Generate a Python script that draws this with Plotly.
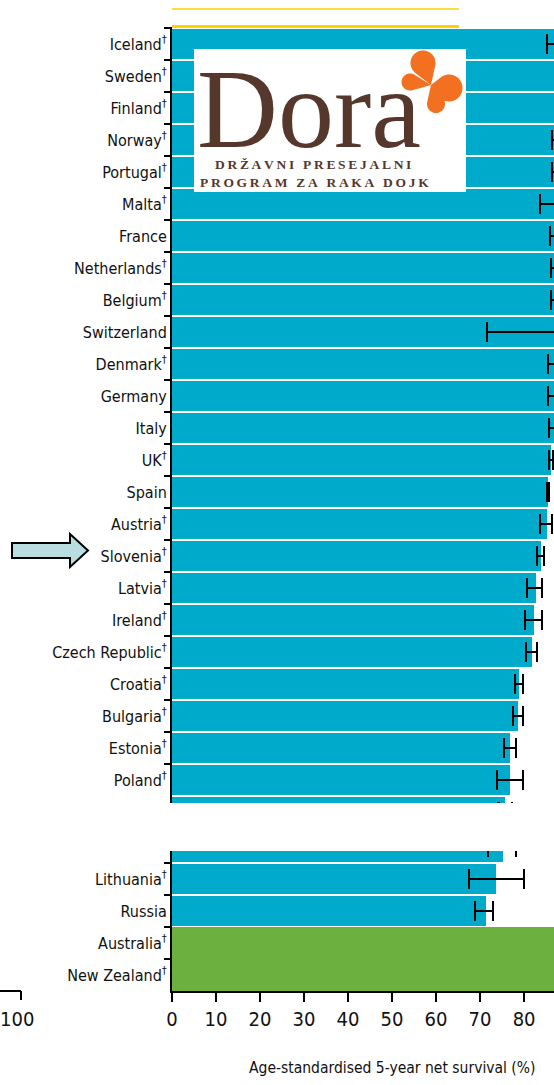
import math
import plotly.graph_objects as go

# ---------------- data ----------------
top_countries = ["Iceland", "Sweden", "Finland", "Norway", "Portugal", "Malta", "France",
                 "Netherlands", "Belgium", "Switzerland", "Denmark", "Germany", "Italy", "UK",
                 "Spain", "Austria", "Slovenia", "Latvia", "Ireland", "Czech Republic",
                 "Croatia", "Bulgaria", "Estonia", "Poland", "Slovakia"]
top_dagger = [1, 1, 1, 1, 1, 1, 0, 1, 1, 0, 1, 0, 0, 1, 0, 1, 1, 1, 1, 1, 1, 1, 1, 1, 1]
top_values = [89.1, 88.8, 88.5, 87.7, 87.6, 86.9, 87.0, 87.0, 87.0, 87.0, 87.0, 87.0, 87.0,
              86.2, 85.5, 85.2, 83.9, 82.7, 82.3, 81.8, 78.9, 78.6, 76.8, 76.8, 75.7]
top_err_minus = [3.9, 0.6, 0.6, 1.3, 1.2, 3.3, 1.1, 0.9, 0.9, 15.4, 1.5, 1.5, 1.3,
                 0.45, 0.2, 1.6, 0.9, 2.0, 2.1, 1.4, 0.9, 1.1, 1.3, 2.9, 1.5]
top_err_plus = [3.9, 0.6, 0.6, 1.3, 1.2, 3.3, 1.1, 0.9, 0.9, 15.4, 1.5, 1.5, 1.3,
                0.45, 0.2, 1.2, 0.6, 1.4, 1.8, 1.2, 0.9, 1.2, 1.4, 3.0, 1.5]

bottom_countries = ["Romania", "Lithuania", "Russia", "Australia", "New Zealand"]
bottom_dagger = [1, 1, 0, 1, 1]
bottom_values = [75.2, 73.6, 71.4, 89.5, 87.6]
bottom_err_minus = [3.4, 6.1, 2.5, 0.0, 0.0]
bottom_err_plus = [3.0, 6.4, 1.6, 0.0, 0.0]
bottom_region = ["Europe", "Europe", "Europe", "Oceania", "Oceania"]

x_ticks = [0, 10, 20, 30, 40, 50, 60, 70, 80]
x_title = "Age-standardised 5-year net survival (%)"

# ---------------- style ----------------
BLUE = "#00AACB"
GREEN = "#6CB13F"
YELLOW = "#F6D500"
BROWN = "#55372C"
ORANGE = "#F37021"
FONT = "DejaVu Sans Condensed, Liberation Sans Narrow, sans-serif"
SERIF = "Liberation Serif, serif"

W, H = 554, 1085
ML, MR, MT, MB = 172, 0, 0, 94
PW, PH = W - ML - MR, H - MT - MB


def px(x):
    return (x - ML) / PW


def py(y):
    return (H - MB - y) / PH


def lab(name, d):
    return name + ("<sup>†</sup>" if d else "")


def spaced(s):
    # mimic letter spacing of the logo lettering with thin spaces
    return "\u2009".join(s)


top_labels = [lab(n, d) for n, d in zip(top_countries, top_dagger)]
bottom_labels = [lab(n, d) for n, d in zip(bottom_countries, bottom_dagger)]
bottom_colors = [BLUE if r == "Europe" else GREEN for r in bottom_region]
bottom_widths = [0.94 if r == "Europe" else 1.0 for r in bottom_region]

err_style = dict(type="data", symmetric=False, color="black", thickness=2.2, width=10)

fig = go.Figure()
fig.add_trace(go.Bar(
    x=top_values, y=top_labels, orientation="h", xaxis="x2", yaxis="y2",
    marker=dict(color=BLUE, line=dict(width=0)), width=0.94,
    error_x=dict(array=top_err_plus, arrayminus=top_err_minus, **err_style),
    showlegend=False,
))
fig.add_trace(go.Bar(
    x=bottom_values, y=bottom_labels, orientation="h", xaxis="x", yaxis="y",
    marker=dict(color=bottom_colors, line=dict(width=0)), width=bottom_widths,
    error_x=dict(array=bottom_err_plus, arrayminus=bottom_err_minus, **err_style),
    showlegend=False,
))

axis_common = dict(showgrid=False, zeroline=False)
yaxis_common = dict(
    type="category", tickson="boundaries", ticks="outside", ticklen=6, tickwidth=2,
    tickcolor="black", showline=True, linecolor="black", linewidth=2,
    tickfont=dict(family=FONT, size=16, color="#111"), **axis_common,
)

fig.update_layout(
    width=W, height=H, margin=dict(l=ML, r=MR, t=MT, b=MB),
    paper_bgcolor="white", plot_bgcolor="white", bargap=0,
    xaxis=dict(domain=[0, 1], range=[0, 86.8], tickvals=x_ticks, ticks="outside",
               ticklen=9, tickwidth=2, tickcolor="black", showline=True,
               linecolor="black", linewidth=2, anchor="y",
               tickfont=dict(family=FONT, size=20, color="#111"), **axis_common),
    xaxis2=dict(domain=[0, 1], range=[0, 86.8], visible=False, anchor="y2",
                matches="x", **axis_common),
    yaxis=dict(domain=[0, py(851)], range=[4.5, 0.125], anchor="x", **yaxis_common),
    yaxis2=dict(domain=[py(803), py(27)], range=[23.72, -0.53], anchor="x2",
                **yaxis_common),
)

shapes = []
annotations = []

# cut-off bar outline at top (yellow)
for yy, lw in [(9, 1.5), (26.5, 3)]:
    shapes.append(dict(type="line", xref="x2", yref="paper", x0=0, x1=65.2,
                       y0=py(yy), y1=py(yy), line=dict(color=YELLOW, width=lw)))

# fragment of neighbouring panel's axis with "100"
shapes.append(dict(type="line", xref="paper", yref="paper", x0=px(0), x1=px(21),
                   y0=py(991), y1=py(991), line=dict(color="black", width=2)))
shapes.append(dict(type="line", xref="paper", yref="paper", x0=px(21), x1=px(21),
                   y0=py(991), y1=py(1000), line=dict(color="black", width=2)))
annotations.append(dict(text="100", xref="paper", yref="paper", x=px(-2), y=py(1019),
                        showarrow=False, xanchor="left", yanchor="middle",
                        font=dict(family=FONT, size=20, color="#111")))

# x-axis title
annotations.append(dict(text=x_title, xref="paper", yref="paper", x=px(392), y=py(1068),
                        showarrow=False, xanchor="center", yanchor="middle",
                        font=dict(family=FONT, size=15.5, color="#111")))

# arrow pointing at Slovenia
arrow_pts = [(12, 543), (70, 543), (70, 534), (88, 550.5), (70, 567), (70, 558), (12, 558)]
path = "M " + " L ".join(f"{px(a):.5f},{py(b):.5f}" for a, b in arrow_pts) + " Z"
shapes.append(dict(type="path", xref="paper", yref="paper", path=path,
                   fillcolor="#B9DEE2", line=dict(color="black", width=2)))

# logo box
shapes.append(dict(type="rect", xref="paper", yref="paper", x0=px(194), x1=px(466),
                   y0=py(192), y1=py(49), fillcolor="white", line=dict(width=0)))


def petal(cx, cy, r, tx, ty, n=40):
    dx, dy = tx - cx, ty - cy
    d = math.hypot(dx, dy)
    th = math.atan2(dy, dx)
    a = math.acos(min(r / d, 1.0))
    pts = [(tx, ty)]
    for i in range(n + 1):
        ang = th + a + (2 * math.pi - 2 * a) * i / n
        pts.append((cx + r * math.cos(ang), cy + r * math.sin(ang)))
    return "M " + " L ".join(f"{px(x):.5f},{py(y):.5f}" for x, y in pts) + " Z"


center = (431, 85)
for cx, cy, r in [(423, 63, 12.5), (410, 82, 8.5), (449, 88, 13.5), (436, 104, 9)]:
    shapes.append(dict(type="path", xref="paper", yref="paper",
                       path=petal(cx, cy, r, *center), fillcolor=ORANGE,
                       line=dict(width=0)))

annotations.append(dict(text="Dora", xref="paper", yref="paper", x=px(309), y=py(109),
                        showarrow=False, xanchor="center", yanchor="middle",
                        font=dict(family=SERIF, size=112, color=BROWN)))
annotations.append(dict(text="<b>" + spaced("DRŽAVNI PRESEJALNI") + "</b>",
                        xref="paper", yref="paper",
                        x=px(313), y=py(164), showarrow=False, xanchor="center",
                        yanchor="middle", borderpad=0,
                        font=dict(family=SERIF, size=13.5, color=BROWN)))
annotations.append(dict(text="<b>" + spaced("PROGRAM ZA RAKA DOJK") + "</b>",
                        xref="paper", yref="paper",
                        x=px(314), y=py(183), showarrow=False, xanchor="center",
                        yanchor="middle", borderpad=0,
                        font=dict(family=SERIF, size=13.5, color=BROWN)))

fig.update_layout(shapes=shapes, annotations=annotations)
fig.write_html("out.html")
